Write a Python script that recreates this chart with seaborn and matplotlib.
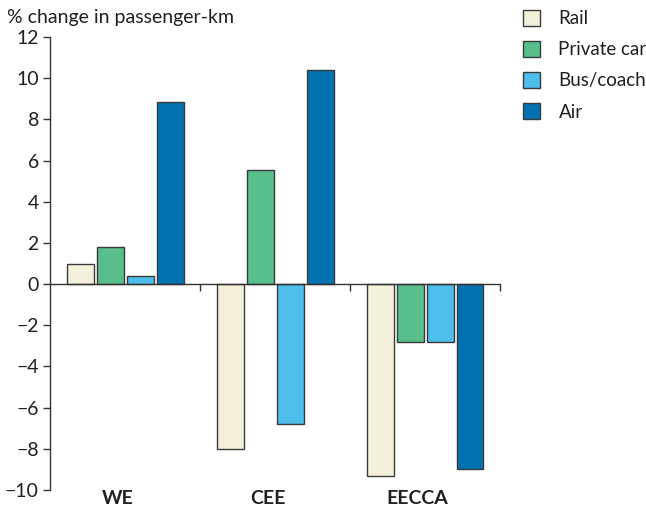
import matplotlib
matplotlib.use("Agg")
import matplotlib.pyplot as plt
import seaborn as sns
import pandas as pd
from matplotlib.patches import Patch

regions = ["WE", "CEE", "EECCA"]
modes = ["Rail", "Private car", "Bus/coach", "Air"]
rail = [1.0, -8.0, -9.3]
private_car = [1.8, 5.55, -2.8]
bus_coach = [0.4, -6.8, -2.8]
air = [8.85, 10.4, -9.0]
colors = ["#F3F1D9", "#58BF8C", "#4DBDEC", "#0072B0"]

rows = []
for m, vals in zip(modes, [rail, private_car, bus_coach, air]):
    for r, v in zip(regions, vals):
        rows.append({"region": r, "mode": m, "value": v})
df = pd.DataFrame(rows)

sns.set_style("white")
plt.rcParams['font.family'] = ['Lato', 'DejaVu Sans']

fig = plt.figure(figsize=(6.46, 5.07), dpi=100)
ax = fig.add_axes([50/646, 1-490/507, 450/646, 453/507])

sns.barplot(data=df, x="region", y="value", hue="mode", order=regions,
            hue_order=modes, palette=colors, saturation=1, width=0.8, gap=0.1,
            edgecolor="#3a3a3a", linewidth=1, legend=False, ax=ax)

ax.set_xlim(-0.5, 2.5)
ax.set_ylim(-10, 12)
ax.set_yticks(range(-10, 13, 2))
ax.tick_params(axis='y', direction='out', length=5, width=1, color='#333333',
               labelsize=14, left=True, pad=3, labelcolor='#231f20')
ax.set_xticks([0.5, 1.5, 2.5])
ax.set_xticklabels([])
ax.tick_params(axis='x', direction='out', length=5, width=1, color='#333333', bottom=True)
ax.spines['bottom'].set_position(('data', 0))
ax.spines['top'].set_visible(False)
ax.spines['right'].set_visible(False)
for s in ['left', 'bottom']:
    ax.spines[s].set_color('#333333')
    ax.spines[s].set_linewidth(1)
ax.set_xlabel("")
ax.set_ylabel("")

for i, r in enumerate(regions):
    ax.text(i - 0.05, -10.0, r, ha='center', va='top', fontsize=14,
            fontweight='bold', color='#231f20')

fig.text(7/646, 1-17/507, "% change in passenger-km", fontsize=14,
         ha='left', va='center', color='#231f20')

handles = [Patch(facecolor=c, edgecolor='#3a3a3a', linewidth=1) for c in colors]
fig.legend(handles, modes, loc='upper left', bbox_to_anchor=(506/646, 1.0 + 7/507),
           frameon=False, fontsize=13.5, handlelength=0.9, handleheight=0.95,
           labelspacing=0.72, handletextpad=1.0, labelcolor='#231f20')

fig.savefig("out.png", dpi=100)
